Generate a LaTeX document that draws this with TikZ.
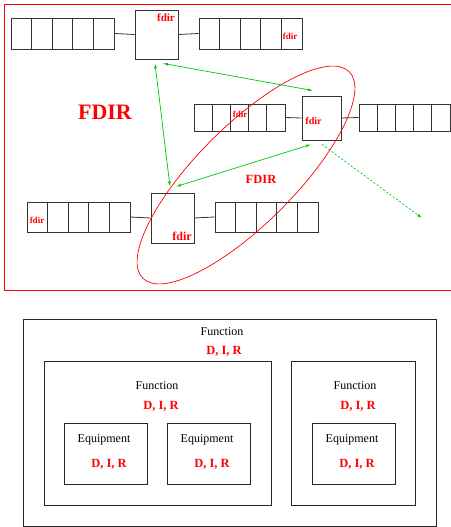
\documentclass[tikz,border=0pt]{standalone}
\usepackage{fontspec}
\setmainfont{Liberation Serif}
\usetikzlibrary{arrows.meta}
\definecolor{figgreen}{RGB}{0,200,0}

% five cells of a queue: name, left x, centre y, cell width, height
\newcommand{\fqueue}[5]{%
  \foreach \i in {1,...,5}
    \node[cell,minimum width=#4pt,minimum height=#5pt] (#1-\i) at ({#2+(\i-0.5)*#4},#3) {};}

\begin{document}
\begin{tikzpicture}[x=1pt,y=1pt,
  cell/.style={draw=black!80,inner sep=0,line width=0.8pt},
  unit/.style={draw=black!80,inner sep=0,line width=0.8pt},
  link/.style={black!80,line width=0.8pt},
  garrow/.style={figgreen,line width=0.7pt,{Latex[length=5pt,width=3pt]}-{Latex[length=5pt,width=3pt]}},
  tag/.style={red,inner sep=0,font=\fontsize{#1}{#1}\selectfont\bfseries},
  frame/.style={draw=black!85,inner sep=0,line width=0.7pt},
  txt/.style={inner sep=0,font=\fontsize{12}{14}\selectfont},
  dir/.style={red,inner sep=0,font=\fontsize{12.5}{14}\selectfont\bfseries}]
\useasboundingbox (0,0) rectangle (450,-527);
\draw[red,line width=0.8pt] (4,-4) rectangle (470,-290);

% first row
\fqueue{qa}{11}{-33.5}{20.6}{31}
\node[unit,minimum width=43pt,minimum height=49pt] (b1) at (156.5,-34.5) {};
\fqueue{qb}{199}{-33.5}{20.6}{31}
\draw[link] (qa-5.east) -- (b1.west);
\draw[link] (b1.east) -- (qb-1.west);
\node[tag=11] (t1) at (166,-18) {fdir};
\node[tag=9] (t2) at (290,-36) {fdir};

% second row
\fqueue{qc}{194}{-117.5}{18.2}{27}
\node[unit,minimum width=39pt,minimum height=44pt] (b2) at (321.5,-118) {};
\fqueue{qd}{359}{-117.5}{18.2}{27}
\draw[link] (qc-5.east) -- (b2.west);
\draw[link] (b2.east) -- (qd-1.west);
\node[tag=9] (t3) at (240,-114) {fdir};
\node[tag=10] (t4) at (313.5,-121) {fdir};

% third row
\fqueue{qe}{27}{-217}{20.6}{30}
\node[unit,minimum width=43pt,minimum height=50pt] (b3) at (172.5,-218) {};
\fqueue{qf}{215}{-217}{20.6}{30}
\draw[link] (qe-5.east) -- (b3.west);
\draw[link] (b3.east) -- (qf-1.west);
\node[tag=9] (t5) at (37,-220) {fdir};
\node[tag=12] (t6) at (182,-236) {fdir};

\node[tag=22] (big) at (105,-112) {FDIR};
\node[tag=12.5] (grp) at (261,-179) {FDIR};
\draw[red,line width=0.7pt,rotate around={45:(246,-175)}] (246,-175) ellipse [x radius=146,y radius=49];

% green links
\coordinate (away) at (422,-218);
\draw[garrow] ([xshift=6.5pt,yshift=-4pt]b1.south) -- ([xshift=-8.5pt,yshift=5pt]b2.north);
\draw[garrow] ([xshift=-1.5pt,yshift=-4pt]b1.south) -- ([xshift=-2.5pt,yshift=6pt]b3.north);
\draw[garrow] ([xshift=3.5pt,yshift=6pt]b3.north) -- ([xshift=-10.5pt,yshift=-4pt]b2.south);
\draw[garrow,dash pattern=on 2pt off 2pt,-{Latex[length=5pt,width=3pt]}] ([xshift=0.5pt,yshift=-4pt]b2.south) -- (away);

% functions and equipments
\node[frame,minimum width=413pt,minimum height=207pt] (fall) at (229.5,-422.5) {};
\node[frame,minimum width=227pt,minimum height=144pt] (fa) at (157.5,-433) {};
\node[frame,minimum width=124pt,minimum height=144pt] (fb) at (353,-433) {};
\node[frame,minimum width=83pt,minimum height=61pt] (ea) at (105.5,-453.5) {};
\node[frame,minimum width=83pt,minimum height=61pt] (eb) at (208.5,-453.5) {};
\node[frame,minimum width=83pt,minimum height=61pt] (ec) at (353.5,-453.5) {};

\node[txt] (fall-t) at (222,-332) {Function};
\node[dir] (fall-d) at (224,-351) {D, I, R};
\node[txt] (fa-t) at (157,-386) {Function};
\node[dir] (fa-d) at (161,-406) {D, I, R};
\node[txt] (fb-t) at (355,-386) {Function};
\node[dir] (fb-d) at (358,-406) {D, I, R};
\node[txt] (ea-t) at (104,-440) {Equipment};
\node[dir] (ea-d) at (109,-464) {D, I, R};
\node[txt] (eb-t) at (207,-440) {Equipment};
\node[dir] (eb-d) at (212,-464) {D, I, R};
\node[txt] (ec-t) at (352,-440) {Equipment};
\node[dir] (ec-d) at (357,-464) {D, I, R};
\end{tikzpicture}
\end{document}
